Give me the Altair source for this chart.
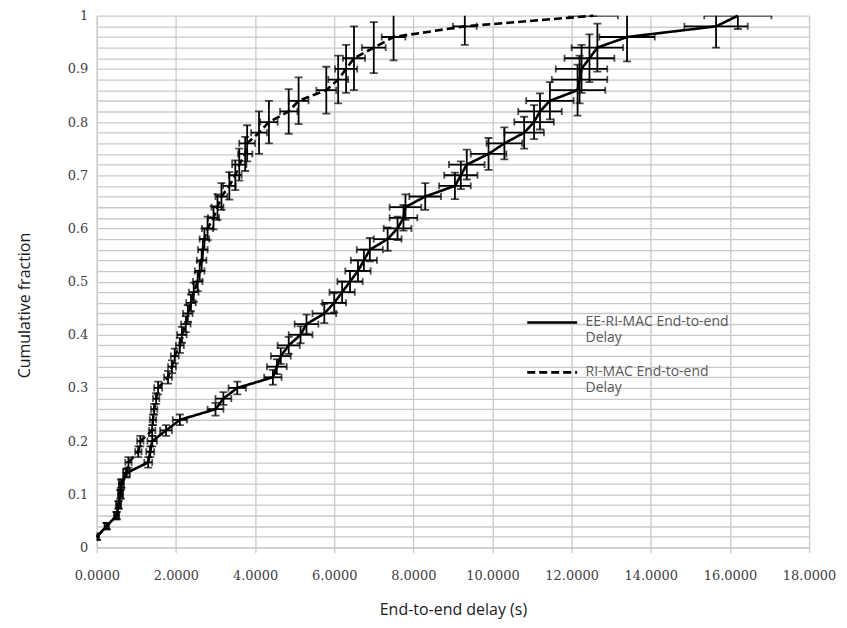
import altair as alt
import pandas as pd

# ---------------- data ----------------
cum_y = [0.02, 0.04, 0.06, 0.08, 0.10, 0.12, 0.14, 0.16, 0.18, 0.20,
         0.22, 0.24, 0.26, 0.28, 0.30, 0.32, 0.34, 0.36, 0.38, 0.40,
         0.42, 0.44, 0.46, 0.48, 0.50, 0.52, 0.54, 0.56, 0.58, 0.60,
         0.62, 0.64, 0.66, 0.68, 0.70, 0.72, 0.74, 0.76, 0.78, 0.80,
         0.82, 0.84, 0.86, 0.88, 0.90, 0.92, 0.94, 0.96, 0.98, 1.00]

ee_x = [0.00, 0.25, 0.50, 0.55, 0.60, 0.62, 0.75, 1.30, 1.35, 1.40,
        1.75, 2.10, 3.00, 3.20, 3.55, 4.45, 4.55, 4.65, 4.85, 5.15,
        5.30, 5.75, 6.00, 6.20, 6.40, 6.60, 6.75, 6.90, 7.35, 7.60,
        7.75, 7.80, 8.30, 9.05, 9.20, 9.35, 9.90, 10.30, 10.80, 11.05,
        11.20, 11.45, 12.15, 12.20, 12.25, 12.45, 12.65, 13.40, 15.65, 16.20]
ee_xerr = [0.05, 0.05, 0.06, 0.06, 0.06, 0.06, 0.08, 0.10, 0.10, 0.12,
           0.15, 0.18, 0.20, 0.20, 0.22, 0.22, 0.25, 0.25, 0.28, 0.30,
           0.30, 0.30, 0.30, 0.32, 0.32, 0.32, 0.33, 0.33, 0.35, 0.35,
           0.35, 0.40, 0.40, 0.40, 0.42, 0.45, 0.45, 0.45, 0.50, 0.50,
           0.55, 0.60, 0.70, 0.70, 0.65, 0.63, 0.65, 0.70, 0.80, 0.85]
ee_yerr = [0.006, 0.006, 0.007, 0.007, 0.008, 0.008, 0.008, 0.010, 0.010, 0.010,
           0.010, 0.010, 0.012, 0.012, 0.012, 0.014, 0.014, 0.015, 0.016, 0.016,
           0.018, 0.018, 0.018, 0.020, 0.020, 0.020, 0.020, 0.022, 0.022, 0.022,
           0.024, 0.024, 0.025, 0.025, 0.026, 0.028, 0.030, 0.030, 0.030, 0.032,
           0.034, 0.035, 0.048, 0.045, 0.045, 0.045, 0.045, 0.046, 0.040, 0.025]

ri_x = [0.00, 0.25, 0.50, 0.55, 0.60, 0.62, 0.75, 0.80, 1.05, 1.10,
        1.40, 1.42, 1.45, 1.50, 1.55, 1.80, 1.90, 1.97, 2.10, 2.15,
        2.25, 2.30, 2.38, 2.45, 2.55, 2.60, 2.65, 2.68, 2.72, 2.80,
        2.95, 3.05, 3.15, 3.35, 3.50, 3.60, 3.75, 3.80, 4.10, 4.35,
        4.85, 5.10, 5.80, 6.10, 6.30, 6.50, 7.00, 7.50, 9.30, 12.55]
ri_xerr = [0.05, 0.05, 0.06, 0.06, 0.06, 0.06, 0.08, 0.08, 0.08, 0.08,
           0.08, 0.08, 0.08, 0.08, 0.10, 0.10, 0.10, 0.10, 0.10, 0.12,
           0.12, 0.12, 0.12, 0.12, 0.12, 0.12, 0.12, 0.12, 0.12, 0.14,
           0.14, 0.15, 0.15, 0.16, 0.16, 0.18, 0.18, 0.20, 0.20, 0.22,
           0.22, 0.25, 0.25, 0.25, 0.28, 0.28, 0.30, 0.30, 0.30, 0.62]
ri_yerr = [0.006, 0.006, 0.007, 0.007, 0.008, 0.008, 0.008, 0.010, 0.010, 0.010,
           0.010, 0.010, 0.010, 0.010, 0.012, 0.012, 0.012, 0.014, 0.014, 0.015,
           0.015, 0.016, 0.016, 0.018, 0.018, 0.018, 0.020, 0.020, 0.020, 0.022,
           0.022, 0.024, 0.025, 0.026, 0.028, 0.030, 0.032, 0.034, 0.040, 0.040,
           0.042, 0.044, 0.044, 0.045, 0.045, 0.060, 0.048, 0.044, 0.035, 0.000]

series_names = ["EE-RI-MAC End-to-end Delay", "RI-MAC End-to-end Delay"]
x_ticks = [0, 2, 4, 6, 8, 10, 12, 14, 16, 18]
y_grid = [round(i * 0.02, 2) for i in range(51)]

# ---------------- table ----------------
frames = []
for name, xs, xe, ye in [(series_names[0], ee_x, ee_xerr, ee_yerr),
                         (series_names[1], ri_x, ri_xerr, ri_yerr)]:
    d = pd.DataFrame({"x": xs, "y": cum_y, "xerr": xe, "yerr": ye})
    d["series"] = name
    d["idx"] = range(len(d))
    frames.append(d)
df = pd.concat(frames, ignore_index=True)
df["x_lo"] = df["x"] - df["xerr"]
df["x_hi"] = df["x"] + df["xerr"]
df["y_lo"] = df["y"] - df["yerr"]
df["y_hi"] = df["y"] + df["yerr"]

GRID = "#c9c9c9"
xscale = alt.Scale(domain=[0, 18], nice=False, zero=False)
yscale = alt.Scale(domain=[0, 1], nice=False, zero=False)

xaxis = alt.Axis(values=x_ticks, format=".4f", title="End-to-end delay (s)",
                 grid=True, gridColor=GRID, gridWidth=1.3,
                 domainColor=GRID, domainWidth=1.3,
                 tickColor=GRID, tickSize=5, tickWidth=1.3,
                 labelOverlap=False, labelFlush=False, labelBound=False,
                 labelFont="DejaVu Serif", labelFontSize=13, labelColor="#404040",
                 labelPadding=17,
                 titleFont="Open Sans", titleFontSize=16, titleFontWeight="normal",
                 titleColor="#1a1a1a", titleY=62, titleBaseline="middle")
yaxis = alt.Axis(values=y_grid,
                 labelExpr="abs(datum.value*10 - round(datum.value*10)) < 0.001 ? format(datum.value, '.1~f') : ''",
                 title="Cumulative fraction",
                 grid=True, gridColor=GRID, gridWidth=1.3,
                 domainColor=GRID, domainWidth=1.3,
                 ticks=False, labelPadding=9,
                 labelOverlap=False, labelFlush=False, labelBound=False,
                 labelFont="DejaVu Serif", labelFontSize=13, labelColor="#404040",
                 titleFont="Open Sans", titleFontSize=16, titleFontWeight="normal",
                 titleColor="#1a1a1a", titleAngle=270, titleX=-72, titleY=290,
                 titleAlign="center", titleBaseline="middle")


def X(f):
    return alt.X(f, scale=xscale, axis=xaxis, title="End-to-end delay (s)")


def Y(f):
    return alt.Y(f, scale=yscale, axis=yaxis, title="Cumulative fraction")


base = alt.Chart(df)

lines = base.mark_line(color="black", strokeWidth=2.6).encode(
    x=X("x:Q"),
    y=Y("y:Q"),
    order="idx:Q",
    strokeDash=alt.StrokeDash(
        "series:N",
        scale=alt.Scale(domain=series_names, range=[[1, 0], [8, 4]]),
        legend=alt.Legend(
            title=None, orient="none", legendX=430, legendY=281,
            symbolType="stroke", symbolSize=2500, symbolStrokeWidth=2.6,
            symbolStrokeColor="black",
            labelFont="Open Sans", labelFontSize=14, labelColor="#595959",
            labelOffset=7, labelLimit=400, rowPadding=-18,
            labelExpr="datum.label == 'EE-RI-MAC End-to-end Delay' ? ['EE-RI-MAC End-to-end', 'Delay'] : ['RI-MAC End-to-end', 'Delay']",
        ),
    ),
)

vbars = base.mark_rule(color="black", strokeWidth=1.8, clip=True).encode(
    x=X("x:Q"), y=Y("y_lo:Q"), y2="y_hi:Q")
hbars = base.mark_rule(color="black", strokeWidth=1.8, clip=True).encode(
    x=X("x_lo:Q"), x2="x_hi:Q", y=Y("y:Q"))
vcap_lo = base.mark_tick(color="black", orient="horizontal", size=8, thickness=1.8, clip=True).encode(
    x=X("x:Q"), y=Y("y_lo:Q"))
vcap_hi = base.mark_tick(color="black", orient="horizontal", size=8, thickness=1.8, clip=True).encode(
    x=X("x:Q"), y=Y("y_hi:Q"))
hcap_lo = base.mark_tick(color="black", orient="vertical", size=7, thickness=1.8, clip=True).encode(
    x=X("x_lo:Q"), y=Y("y:Q"))
hcap_hi = base.mark_tick(color="black", orient="vertical", size=7, thickness=1.8, clip=True).encode(
    x=X("x_hi:Q"), y=Y("y:Q"))

chart = alt.layer(lines, vbars, hbars, vcap_lo, vcap_hi, hcap_lo, hcap_hi).properties(
    width=714, height=533,
    padding={"left": 89, "top": 7, "right": 30, "bottom": 78},
    autosize=alt.AutoSizeParams(type="none"),
    background="white",
).configure_view(stroke=None).configure_axis(labelOverlap=False)

chart.save("out.html", embed_options={"renderer": "svg", "actions": False})
